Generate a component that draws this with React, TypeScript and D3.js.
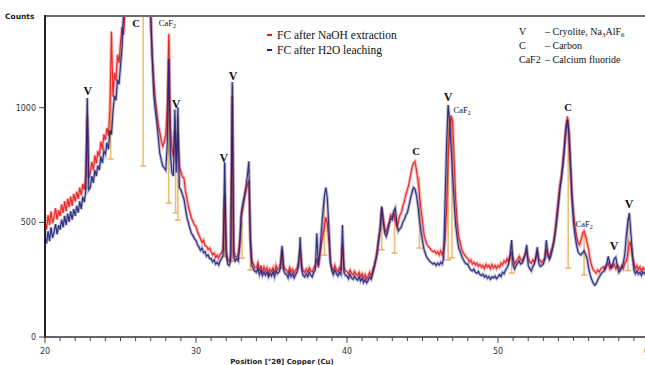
import { useEffect, useRef } from "react";
import * as d3 from "d3";

// XRD scans, 20.0° to 59.8° 2θ in 0.1° steps
const scanStart = 20;
const scanStep = 0.1;

const naohCounts = [
  505, 468, 532, 488, 548, 497, 524, 562, 512, 553,
  528, 578, 541, 592, 548, 603, 566, 612, 572, 624,
  591, 634, 602, 652, 618, 668, 642, 702, 962, 694,
  718, 764, 728, 792, 757, 812, 788, 852, 818, 884,
  858, 912, 878, 1002, 1332, 1048, 1152, 1118, 1232, 1196,
  1282, 1352, 1318, 1424, 1502, 1604, 1702, 1852, 2002, 2204,
  2404, 2604, 2804, 3104, 3404, 3604, 3002, 2304, 1804, 1522,
  1382, 1228, 1124, 1038, 984, 928, 894, 858, 832, 852,
  884, 1004, 1322, 918, 824, 788, 902, 762, 884, 742,
  722, 698, 694, 638, 604, 568, 542, 518, 504, 488,
  482, 458, 444, 428, 412, 422, 398, 396, 382, 388,
  372, 358, 366, 348, 356, 344, 362, 368, 384, 622,
  382, 338, 332, 358, 1052, 378, 352, 348, 362, 422,
  522, 558, 602, 638, 662, 682, 432, 332, 318, 302,
  302, 322, 288, 312, 284, 306, 288, 302, 278, 296,
  286, 302, 278, 312, 294, 302, 322, 382, 312, 294,
  292, 278, 302, 284, 296, 278, 292, 302, 332, 382,
  312, 288, 282, 296, 284, 302, 288, 284, 302, 312,
  342, 302, 352, 402, 442, 482, 522, 488, 422, 332,
  302, 288, 312, 294, 284, 302, 288, 402, 302, 288,
  286, 274, 292, 278, 272, 286, 274, 268, 282, 264,
  276, 258, 272, 254, 266, 282, 268, 292, 312, 342,
  382, 432, 482, 562, 518, 472, 458, 482, 502, 532,
  522, 542, 508, 482, 502, 532, 542, 572, 592, 622,
  642, 668, 702, 738, 758, 766, 728, 682, 618, 558,
  502, 448, 422, 402, 394, 386, 378, 372, 376, 364,
  372, 358, 376, 358, 382, 422, 562, 782, 902, 966,
  938, 762, 598, 502, 438, 412, 382, 368, 356, 348,
  342, 328, 336, 318, 326, 314, 322, 308, 316, 304,
  312, 298, 316, 304, 312, 298, 316, 302, 312, 298,
  312, 304, 322, 314, 332, 324, 342, 328, 348, 372,
  342, 318, 332, 338, 352, 338, 332, 346, 358, 372,
  342, 328, 322, 336, 328, 346, 372, 342, 332, 324,
  336, 342, 382, 352, 346, 372, 392, 422, 472, 542,
  602, 662, 702, 762, 842, 922, 962, 902, 762, 622,
  542, 482, 442, 412, 402, 422, 452, 462, 442, 412,
  382, 338, 312, 294, 286, 278, 292, 284, 296, 302,
  306, 294, 312, 322, 298, 312, 304, 316, 298, 312,
  306, 294, 312, 298, 322, 332, 362, 412, 402, 352,
  322, 298, 312, 294, 306, 288, 302, 294, 306,
];

const h2oCounts = [
  442, 408, 462, 418, 478, 432, 458, 492, 448, 488,
  468, 512, 478, 528, 488, 538, 502, 548, 512, 558,
  528, 572, 542, 592, 558, 612, 588, 638, 1042, 642,
  652, 702, 672, 728, 702, 748, 728, 788, 758, 812,
  798, 848, 818, 902, 882, 982, 1052, 1032, 1122, 1102,
  1182, 1262, 1408, 1502, 1602, 1702, 1852, 2002, 2204, 2404,
  2604, 2804, 3004, 3204, 3404, 3504, 3004, 2404, 1904, 1602,
  1422, 1222, 1062, 992, 938, 872, 802, 772, 744, 738,
  728, 842, 1212, 802, 718, 702, 992, 718, 1002, 652,
  642, 622, 602, 562, 522, 498, 472, 452, 442, 428,
  422, 402, 392, 378, 388, 368, 372, 352, 358, 342,
  342, 328, 336, 318, 326, 314, 332, 342, 358, 762,
  362, 318, 312, 336, 1112, 348, 332, 342, 332, 402,
  542, 582, 612, 652, 702, 766, 422, 312, 298, 286,
  282, 298, 272, 290, 268, 284, 270, 282, 262, 278,
  266, 284, 262, 290, 276, 284, 302, 398, 292, 276,
  272, 258, 282, 264, 276, 258, 272, 284, 312, 436,
  292, 268, 262, 276, 264, 282, 268, 262, 282, 292,
  452, 312, 372, 458, 542, 612, 652, 602, 478, 322,
  288, 272, 292, 276, 266, 282, 272, 488, 282, 268,
  266, 254, 272, 258, 252, 266, 254, 248, 262, 244,
  256, 238, 250, 236, 246, 262, 252, 276, 302, 332,
  362, 422, 472, 570, 502, 452, 438, 462, 492, 518,
  512, 548, 562, 498, 462, 472, 480, 502, 512, 532,
  542, 572, 602, 628, 652, 646, 618, 572, 512, 462,
  418, 382, 362, 346, 338, 328, 324, 318, 322, 312,
  322, 314, 326, 318, 342, 602, 852, 1012, 942, 822,
  702, 582, 488, 432, 388, 372, 352, 338, 326, 318,
  318, 302, 292, 288, 296, 282, 278, 286, 272, 268,
  274, 262, 268, 256, 264, 252, 262, 258, 266, 254,
  262, 272, 264, 282, 276, 292, 302, 318, 362, 423,
  312, 296, 312, 322, 332, 318, 322, 338, 362, 402,
  312, 298, 288, 306, 318, 342, 392, 322, 308, 312,
  318, 338, 422, 362, 338, 352, 382, 412, 458, 512,
  572, 642, 692, 752, 822, 902, 946, 882, 742, 602,
  498, 442, 402, 372, 362, 358, 368, 376, 362, 342,
  302, 272, 252, 236, 226, 232, 248, 262, 272, 282,
  286, 302, 318, 352, 322, 302, 318, 342, 348, 312,
  282, 292, 302, 322, 362, 442, 502, 541, 452, 362,
  292, 276, 288, 274, 282, 268, 284, 276, 288,
];

// reference pattern sticks: position, background level, top
const stickPos = [22.8, 24.35, 26.5, 28.2, 28.65, 28.8, 31.9, 32.45, 33.05, 33.6, 34.1, 35.7, 38.5, 42.3, 43.15, 44.8, 46.7, 46.95, 50.9, 54.65, 55.7, 58.6];
const stickLow = [650, 776, 746, 584, 541, 510, 350, 330, 344, 292, 290, 300, 357, 380, 366, 388, 336, 345, 279, 301, 270, 290];
const stickHigh = [1000, 1090, 1400, 1300, 950, 950, 760, 1100, 500, 420, 330, 380, 600, 560, 540, 700, 1000, 950, 420, 950, 450, 520];

// peak annotations
const peakText = ["V", "C", "CaF2", "V", "V", "V", "C", "V", "CaF2", "C", "CaF2", "V", "V"];
const peakPos = [22.83, 26.03, 28.1, 28.68, 31.85, 32.45, 44.57, 46.69, 47.62, 54.64, 55.7, 57.68, 58.68];
const peakCount = [1055, 1352, 1356, 999, 763, 1121, 794, 1029, 977, 986, 480, 379, 563];

const seriesNames = ["FC after NaOH extraction", "FC after H2O leaching"];
const seriesColors = ["#ec1b1b", "#23237c"];

const phaseCodes = ["V", "C", "CaF2"];
const phaseNames = [["– Cryolite, Na", "3", "AlF", "6"], ["– Carbon"], ["– Calcium fluoride"]];

const xTicks = [20, 30, 40, 50, 60];
const yTicks = [0, 500, 1000];

const XrdChart = () => {
  const ref = useRef<SVGSVGElement | null>(null);

  useEffect(() => {
    if (!ref.current) return;

    const width = 645;
    const height = 365;

    const x = d3.scaleLinear().domain([20, 60]).range([45, 649]);
    const y = d3.scaleLinear().domain([0, 1400]).range([337, 16]);

    const svg = d3.select(ref.current);
    svg.selectAll("*").remove();
    svg.attr("width", width).attr("height", height);

    svg
      .append("defs")
      .append("clipPath")
      .attr("id", "plot-clip")
      .append("rect")
      .attr("x", 45)
      .attr("y", 16)
      .attr("width", 620)
      .attr("height", 321);

    const plot = svg.append("g").attr("clip-path", "url(#plot-clip)");

    // sticks
    const stickColor = "#ecbf74";
    stickPos.forEach((p, i) => {
      plot
        .append("line")
        .attr("x1", x(p))
        .attr("x2", x(p))
        .attr("y1", y(stickLow[i]))
        .attr("y2", y(stickHigh[i]))
        .attr("stroke", stickColor)
        .attr("stroke-width", 1.6);
      plot
        .append("line")
        .attr("x1", x(p) - 3)
        .attr("x2", x(p) + 3)
        .attr("y1", y(stickLow[i]))
        .attr("y2", y(stickLow[i]))
        .attr("stroke", "#e7a85a")
        .attr("stroke-width", 1.3);
    });

    const line = d3
      .line<number>()
      .x((_, i) => x(scanStart + i * scanStep))
      .y((d) => y(d));

    [naohCounts, h2oCounts].forEach((counts, k) => {
      plot
        .append("path")
        .datum(counts)
        .attr("d", line)
        .attr("fill", "none")
        .attr("stroke", seriesColors[k])
        .attr("stroke-opacity", 0.3)
        .attr("stroke-width", 3.2);
      plot
        .append("path")
        .datum(counts)
        .attr("d", line)
        .attr("fill", "none")
        .attr("stroke", seriesColors[k])
        .attr("stroke-opacity", 0.9)
        .attr("stroke-width", 1.2);
    });

    // frame
    svg
      .append("line")
      .attr("x1", 45)
      .attr("x2", width)
      .attr("y1", 16)
      .attr("y2", 16)
      .attr("stroke", "#6b6b6b")
      .attr("stroke-width", 2);
    svg
      .append("line")
      .attr("x1", 45)
      .attr("x2", 45)
      .attr("y1", 15)
      .attr("y2", 338)
      .attr("stroke", "#222")
      .attr("stroke-width", 2);
    svg
      .append("line")
      .attr("x1", 44)
      .attr("x2", width)
      .attr("y1", 337)
      .attr("y2", 337)
      .attr("stroke", "#333")
      .attr("stroke-width", 1.5);

    // y axis ticks
    yTicks.forEach((t) => {
      svg
        .append("line")
        .attr("x1", 39)
        .attr("x2", 45)
        .attr("y1", y(t))
        .attr("y2", y(t))
        .attr("stroke", "#444")
        .attr("stroke-width", 1);
      svg
        .append("text")
        .attr("x", 36)
        .attr("y", y(t) + 3)
        .attr("text-anchor", "end")
        .attr("font-family", "DejaVu Sans")
        .attr("font-size", 8)
        .attr("fill", "#333")
        .text(String(t));
    });

    // x axis ticks
    d3.range(20, 61).forEach((t) => {
      const major = xTicks.includes(t);
      svg
        .append("line")
        .attr("x1", x(t))
        .attr("x2", x(t))
        .attr("y1", 337)
        .attr("y2", 337 + (major ? 6 : 4))
        .attr("stroke", "#444")
        .attr("stroke-width", 1);
    });
    xTicks.forEach((t) => {
      svg
        .append("text")
        .attr("x", x(t))
        .attr("y", 354)
        .attr("text-anchor", "middle")
        .attr("font-family", "DejaVu Sans")
        .attr("font-size", 8)
        .attr("fill", "#333")
        .text(String(t));
    });

    svg
      .append("text")
      .attr("x", 5)
      .attr("y", 19)
      .attr("font-family", "DejaVu Sans")
      .attr("font-weight", "bold")
      .attr("font-size", 7.5)
      .attr("fill", "#222")
      .text("Counts");

    svg
      .append("text")
      .attr("x", 282)
      .attr("y", 364)
      .attr("text-anchor", "middle")
      .attr("font-family", "DejaVu Sans")
      .attr("font-weight", "bold")
      .attr("font-size", 7)
      .attr("fill", "#222")
      .text("Position [°2θ] Copper (Cu)");

    // peak labels
    peakText.forEach((t, i) => {
      const txt = svg
        .append("text")
        .attr("x", x(peakPos[i]))
        .attr("y", y(peakCount[i]))
        .attr("text-anchor", "middle")
        .attr("font-family", "Liberation Serif")
        .attr("fill", "#111");
      if (t === "CaF2") {
        txt.attr("font-size", 8.5);
        txt.append("tspan").text("CaF");
        txt.append("tspan").attr("font-size", 6).attr("dy", 2).text("2");
      } else {
        txt
          .attr("font-size", t === "V" ? 12 : 10.5)
          .attr("font-weight", "bold")
          .text(t);
      }
    });

    // series legend
    seriesNames.forEach((name, i) => {
      const ly = 35 + i * 15;
      svg
        .append("line")
        .attr("x1", 267)
        .attr("x2", 272)
        .attr("y1", ly)
        .attr("y2", ly)
        .attr("stroke", seriesColors[i])
        .attr("stroke-width", 2);
      svg
        .append("text")
        .attr("x", 277)
        .attr("y", ly + 4)
        .attr("font-family", "Liberation Serif")
        .attr("font-size", 11.5)
        .attr("fill", "#111")
        .text(name);
    });

    // phase legend
    phaseCodes.forEach((code, i) => {
      const ly = 35 + i * 14;
      svg
        .append("text")
        .attr("x", 519)
        .attr("y", ly)
        .attr("font-family", "Liberation Serif")
        .attr("font-size", 10)
        .attr("fill", "#111")
        .text(code);
      const txt = svg
        .append("text")
        .attr("x", 545)
        .attr("y", ly)
        .attr("font-family", "Liberation Serif")
        .attr("font-size", 10)
        .attr("fill", "#111");
      phaseNames[i].forEach((part, j) => {
        if (j % 2 === 1) {
          txt.append("tspan").attr("font-size", 7).attr("dy", 2).text(part);
        } else {
          txt.append("tspan").attr("dy", j > 0 ? -2 : 0).text(part);
        }
      });
    });
  }, []);

  return (
    <svg
      ref={ref}
      style={{ position: "absolute", left: 0, top: 0, background: "#fff" }}
    ></svg>
  );
};

export default function App() {
  return <XrdChart />;
}
